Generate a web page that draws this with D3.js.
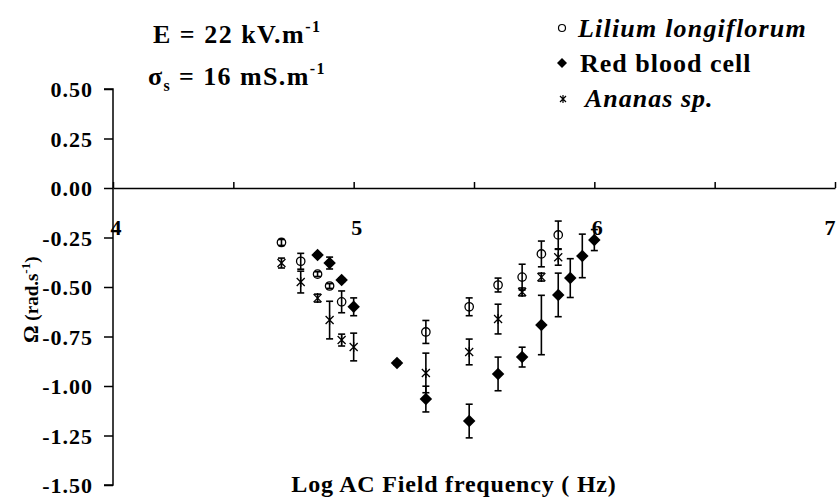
<!DOCTYPE html>
<html>
<head>
<meta charset="utf-8">
<script src="https://cdn.jsdelivr.net/npm/d3@7"></script>
<style>
  body { margin: 0; background: #fff; }
  text { font-family: "Liberation Serif", "Times New Roman", serif; font-weight: bold; fill: #000; }
</style>
</head>
<body>
<div class="chart"></div>
<script>
// tick labels
const yTicks = [0.5, 0.25, 0, -0.25, -0.5, -0.75, -1.0, -1.25, -1.5];
const xTicks = [4, 4.5, 5, 5.5, 6, 6.5, 7];
const xLabels = [4, 5, 6, 7];

// Lilium longiflorum (open circles)
const liliumX   = [4.70, 4.78, 4.85, 4.90, 4.95, 5.30, 5.48, 5.60, 5.70, 5.78, 5.85];
const liliumY   = [-0.275, -0.37, -0.435, -0.495, -0.575, -0.727, -0.60, -0.49, -0.45, -0.333, -0.237];
const liliumErr = [0.015, 0.04, 0.012, 0.012, 0.055, 0.058, 0.045, 0.035, 0.065, 0.065, 0.07];

// Red blood cell (filled diamonds)
const rbcX   = [4.85, 4.90, 4.95, 5.00, 5.18, 5.30, 5.48, 5.60, 5.70, 5.78, 5.85, 5.90, 5.95, 6.00];
const rbcY   = [-0.338, -0.379, -0.465, -0.60, -0.884, -1.066, -1.177, -0.939, -0.854, -0.692, -0.54, -0.455, -0.343, -0.263];
const rbcErr = [0.01, 0.03, 0.01, 0.045, 0.01, 0.065, 0.085, 0.085, 0.05, 0.15, 0.11, 0.098, 0.11, 0.053];

// Ananas sp. (asterisks)
const ananasX   = [4.70, 4.78, 4.85, 4.90, 4.95, 5.00, 5.30, 5.48, 5.60, 5.70, 5.78, 5.85];
const ananasY   = [-0.379, -0.475, -0.556, -0.667, -0.768, -0.803, -0.934, -0.828, -0.662, -0.525, -0.45, -0.35];
const ananasErr = [0.025, 0.055, 0.02, 0.095, 0.03, 0.07, 0.1, 0.065, 0.075, 0.02, 0.02, 0.04];

const w = 837, h = 497;
const svg = d3.select('.chart').append('svg')
    .attr('width', w)
    .attr('height', h);

const x = d3.scaleLinear().domain([4, 7]).range([113, 835]);
const y = d3.scaleLinear().domain([-1.5, 0.5]).range([485, 89]);

// y axis
const fmt = d3.format('.2f');
const yAxis = svg.append('g')
    .attr('transform', 'translate(' + x(4) + ',0)')
    .call(d3.axisLeft(y).tickValues(yTicks).tickSize(9).tickPadding(11)
        .tickFormat(d => d < 0 ? '-' + fmt(-d) : fmt(d)));
yAxis.selectAll('text').attr('font-size', 22).attr('letter-spacing', 1).attr('dy', '0.35em');
yAxis.selectAll('path, line').attr('stroke', '#000').attr('stroke-width', 1.5);
yAxis.select('.domain').attr('d', 'M-9,' + y(0.5) + 'H0V' + y(-1.5) + 'H-9');

// x axis at y = 0
const xAxis = svg.append('g')
    .attr('transform', 'translate(0,' + y(0) + ')')
    .call(d3.axisTop(x).tickValues(xTicks).tickSize(6).tickSizeOuter(0).tickFormat(''));
xAxis.selectAll('path, line').attr('stroke', '#000').attr('stroke-width', 1.5);

svg.selectAll('.xlab')
    .data(xLabels)
    .enter()
    .append('text')
    .attr('class', 'xlab')
    .attr('x', d => Math.min(x(d) + 3, w - 7))
    .attr('y', y(0) + 47)
    .attr('text-anchor', 'middle')
    .attr('font-size', 22)
    .text(d => d);

// series
const lilium = liliumX.map((d, i) => ({x: d, y: liliumY[i], e: liliumErr[i]}));
const rbc = rbcX.map((d, i) => ({x: d, y: rbcY[i], e: rbcErr[i]}));
const ananas = ananasX.map((d, i) => ({x: d, y: ananasY[i], e: ananasErr[i]}));

function errorBars(data) {
    const g = svg.append('g').attr('stroke', '#000').attr('stroke-width', 1.6);
    data.forEach(d => {
        const cx = x(d.x), y1 = y(d.y + d.e), y2 = y(d.y - d.e);
        g.append('line').attr('x1', cx).attr('x2', cx).attr('y1', y1).attr('y2', y2);
        g.append('line').attr('x1', cx - 3.5).attr('x2', cx + 3.5).attr('y1', y1).attr('y2', y1);
        g.append('line').attr('x1', cx - 3.5).attr('x2', cx + 3.5).attr('y1', y2).attr('y2', y2);
    });
}
errorBars(lilium);
errorBars(rbc);
errorBars(ananas);

const diamond = d3.symbol().type(d3.symbolSquare).size(78);
const asterisk = 'M-4,-4L4,4M-4,4L4,-4M0,-5V5';

svg.selectAll('.lil')
    .data(lilium)
    .enter()
    .append('circle')
    .attr('cx', d => x(d.x))
    .attr('cy', d => y(d.y))
    .attr('r', 4.2)
    .attr('fill', 'none')
    .attr('stroke', '#000')
    .attr('stroke-width', 1.3);

svg.selectAll('.rbc')
    .data(rbc)
    .enter()
    .append('path')
    .attr('d', diamond)
    .attr('transform', d => 'translate(' + x(d.x) + ',' + y(d.y) + ') rotate(45)')
    .attr('fill', '#000');

svg.selectAll('.ana')
    .data(ananas)
    .enter()
    .append('path')
    .attr('d', asterisk)
    .attr('transform', d => 'translate(' + x(d.x) + ',' + y(d.y) + ')')
    .attr('fill', 'none')
    .attr('stroke', '#000')
    .attr('stroke-width', 1.3);

// legend
const legend = svg.append('g');
legend.append('circle').attr('cx', 562).attr('cy', 28).attr('r', 3.5)
    .attr('fill', 'none').attr('stroke', '#000').attr('stroke-width', 1.2);
legend.append('path').attr('d', d3.symbol().type(d3.symbolSquare).size(50))
    .attr('transform', 'translate(562,63) rotate(45)').attr('fill', '#000');
legend.append('path').attr('d', 'M-3,-3L3,3M-3,3L3,-3M0,-4V4')
    .attr('transform', 'translate(563,99)').attr('fill', 'none')
    .attr('stroke', '#000').attr('stroke-width', 1.2);
legend.append('text').attr('x', 578).attr('y', 37).attr('font-size', 26).attr('letter-spacing', 1.2)
    .attr('font-style', 'italic').text('Lilium longiflorum');
legend.append('text').attr('x', 580).attr('y', 72).attr('font-size', 26).attr('letter-spacing', 1)
    .text('Red blood cell');
legend.append('text').attr('x', 585).attr('y', 107).attr('font-size', 26).attr('letter-spacing', 1)
    .attr('font-style', 'italic').text('Ananas sp.');

// annotations
const t1 = svg.append('text').attr('x', 153).attr('y', 43).attr('font-size', 26).attr('letter-spacing', 1.5);
t1.append('tspan').text('E = 22 kV.m');
t1.append('tspan').attr('font-size', 16).attr('dy', -11).text('-1');

const t2 = svg.append('text').attr('x', 148).attr('y', 85).attr('font-size', 26).attr('letter-spacing', 1.4);
t2.append('tspan').text('σ');
t2.append('tspan').attr('font-size', 16).attr('dy', 6).text('s');
t2.append('tspan').attr('dy', -6).text(' = 16 mS.m');
t2.append('tspan').attr('font-size', 16).attr('dy', -11).text('-1');

// axis titles
const yt = svg.append('text')
    .attr('transform', 'translate(38,343) rotate(-90)')
    .attr('font-size', 19);
yt.append('tspan').attr('font-size', 22).text('Ω');
yt.append('tspan').text(' (rad.s');
yt.append('tspan').attr('font-size', 13).attr('dy', -8).text('-1');
yt.append('tspan').attr('dy', 8).text(')');

svg.append('text')
    .attr('x', 454)
    .attr('y', 492)
    .attr('text-anchor', 'middle')
    .attr('font-size', 24)
    .attr('letter-spacing', 0.8)
    .text('Log AC Field frequency ( Hz)');
</script>
</body>
</html>
